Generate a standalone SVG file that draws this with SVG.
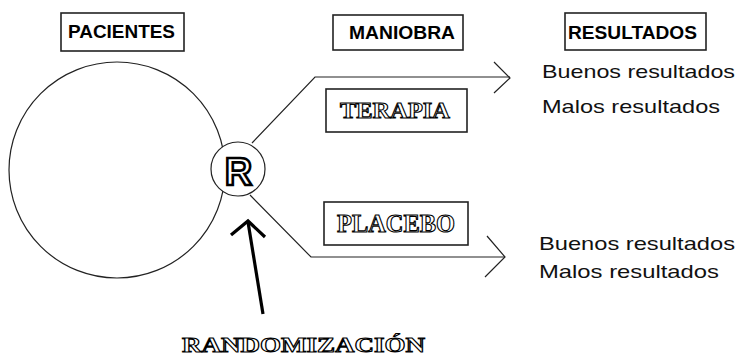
<svg xmlns="http://www.w3.org/2000/svg" width="741" height="356" viewBox="0 0 741 356">
<style>
.box{fill:#fff;stroke:#222;stroke-width:1.6}
.hdr{font-family:"Liberation Sans",Arial,sans-serif;font-weight:bold;font-size:19px;fill:#000}
.res{font-family:"Liberation Sans",Arial,sans-serif;font-size:19px;fill:#111}
.eng{font-family:"Liberation Serif","Times New Roman",serif;font-weight:bold;fill:#fff;stroke:#000;stroke-width:1.1}
.thin{fill:none;stroke:#222;stroke-width:1.2}
</style>
<rect width="741" height="356" fill="#fff"/>
<g id="pacientes-header">
<rect class="box" x="61" y="13" width="123" height="38"/>
<text class="hdr" x="68" y="38" textLength="107" lengthAdjust="spacingAndGlyphs">PACIENTES</text>
</g>
<g id="maniobra-header">
<rect class="box" x="333" y="15" width="130" height="35"/>
<text class="hdr" x="349" y="39" textLength="106" lengthAdjust="spacingAndGlyphs">MANIOBRA</text>
</g>
<g id="resultados-header">
<rect class="box" x="565" y="13" width="141" height="37"/>
<text class="hdr" x="568" y="39" textLength="129" lengthAdjust="spacingAndGlyphs">RESULTADOS</text>
</g>
<g id="pacientes">
<circle class="thin" cx="117" cy="170" r="108"/>
</g>
<g id="connectors">
<polyline class="thin" points="252,143 315,77 510,77"/>
<polyline class="thin" points="494,62 510,78 494,93"/>
<polyline class="thin" points="250,195 311,257 505,257"/>
<polyline class="thin" points="487,236 505,257 485,277"/>
<g id="randomizacion-arrow" fill="none" stroke="#000" stroke-width="3.2">
<line x1="263" y1="314" x2="248" y2="222"/>
<polyline points="231,235 248,221 265,237"/>
</g>
</g>
<g id="randomizer">
<circle cx="238" cy="169" r="27" fill="#fff" stroke="#222" stroke-width="1.2"/>
<text x="238.5" y="185" text-anchor="middle" font-family="Liberation Sans,Arial,sans-serif" font-weight="bold" font-size="38" fill="#fff" stroke="#000" stroke-width="2.6">R</text>
</g>
<g id="terapia">
<rect class="box" x="326" y="89" width="141" height="43"/>
<text class="eng" x="340" y="118" font-size="23" textLength="110" lengthAdjust="spacingAndGlyphs">TERAPIA</text>
</g>
<g id="placebo">
<rect class="box" x="324" y="202" width="144" height="43"/>
<text class="eng" x="337" y="232" font-size="25" textLength="118" lengthAdjust="spacingAndGlyphs">PLACEBO</text>
</g>
<g id="resultados-terapia">
<text class="res" x="542" y="78" textLength="193" lengthAdjust="spacingAndGlyphs">Buenos resultados</text>
<text class="res" x="542" y="113" textLength="178" lengthAdjust="spacingAndGlyphs">Malos resultados</text>
</g>
<g id="resultados-placebo">
<text class="res" x="539" y="250" textLength="196" lengthAdjust="spacingAndGlyphs">Buenos resultados</text>
<text class="res" x="539" y="278" textLength="180" lengthAdjust="spacingAndGlyphs">Malos resultados</text>
</g>
<g id="randomizacion-label">
<text class="eng" x="182" y="352" font-size="22" textLength="243" lengthAdjust="spacingAndGlyphs">RANDOMIZACIÓN</text>
</g>
</svg>
